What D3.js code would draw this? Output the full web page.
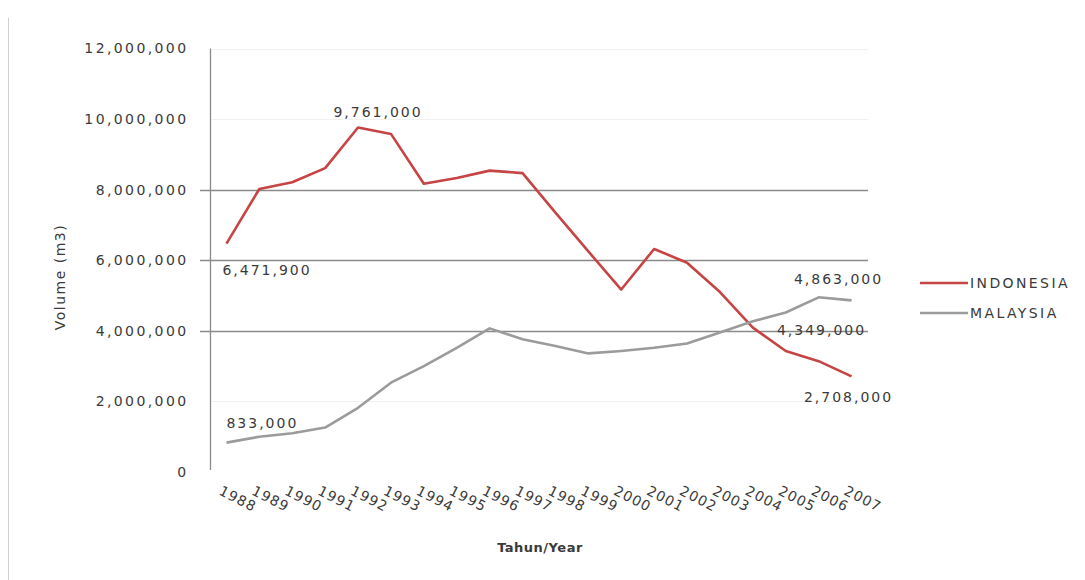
<!DOCTYPE html>
<html>
<head>
<meta charset="utf-8">
<script src="https://cdn.jsdelivr.net/npm/d3@7"></script>
<style>
  html, body { margin: 0; padding: 0; background: #ffffff; }
  svg { display: block; }
  text { font-family: "DejaVu Sans", sans-serif; fill: #3a3a3a; }
</style>
</head>
<body>
<svg id="chart" width="1085" height="580"></svg>
<script>
// ---- data ----
const years = [1988, 1989, 1990, 1991, 1992, 1993, 1994, 1995, 1996, 1997,
               1998, 1999, 2000, 2001, 2002, 2003, 2004, 2005, 2006, 2007];
const indonesia = [6471900, 8020000, 8210000, 8610000, 9761000, 9580000, 8170000, 8330000, 8540000, 8470000,
                   7350000, 6250000, 5170000, 6320000, 5930000, 5100000, 4090000, 3430000, 3140000, 2708000];
const malaysia = [833000, 1000000, 1100000, 1260000, 1820000, 2530000, 3000000, 3520000, 4070000, 3760000,
                  3570000, 3360000, 3430000, 3520000, 3640000, 3950000, 4270000, 4520000, 4950000, 4863000];
const seriesNames = ["INDONESIA", "MALAYSIA"];
const yTicks = [0, 2000000, 4000000, 6000000, 8000000, 10000000, 12000000];
const pointLabels = [
  { series: "INDONESIA", index: 0,  text: "6,471,900" },
  { series: "INDONESIA", index: 4,  text: "9,761,000" },
  { series: "INDONESIA", index: 19, text: "2,708,000" },
  { series: "MALAYSIA",  index: 0,  text: "833,000" },
  { series: "MALAYSIA",  index: 19, text: "4,863,000" },
  { series: "MALAYSIA",  index: 19, text: "4,349,000" }
];
const xTitle = "Tahun/Year";
const yTitle = "Volume (m3)";

// ---- layout ----
const svg = d3.select("#chart");
const plot = { left: 210, right: 868, top: 48.5, bottom: 472 };
const colors = { "INDONESIA": "#c64444", "MALAYSIA": "#9b9b9b" };
const values = { "INDONESIA": indonesia, "MALAYSIA": malaysia };

const x = d3.scalePoint().domain(years).range([plot.left, plot.right]).padding(0.5);
const y = d3.scaleLinear().domain([0, 12000000]).range([plot.bottom, plot.top]);

// left border of the chart area
svg.append("line").attr("x1", 8.5).attr("x2", 8.5).attr("y1", 18).attr("y2", 580)
   .attr("stroke", "#d0d0d0").attr("stroke-width", 1);

// gridlines
const strongGrid = new Set([4000000, 6000000, 8000000]);
svg.append("g").selectAll("line").data(yTicks.filter(d => d > 0)).join("line")
  .attr("x1", d => strongGrid.has(d) ? plot.left - 10 : plot.left)
  .attr("x2", plot.right)
  .attr("y1", d => Math.round(y(d)) + 0.5)
  .attr("y2", d => Math.round(y(d)) + 0.5)
  .attr("stroke", d => strongGrid.has(d) ? "#8a8a8a" : "#f1f1f1")
  .attr("stroke-width", d => strongGrid.has(d) ? 1.3 : 1);

// y axis
const yAxis = d3.axisLeft(y).tickValues(yTicks).tickSize(0).tickPadding(22)
  .tickFormat(d3.format(","));
const gy = svg.append("g").attr("transform", `translate(${plot.left + 0.5},0)`).call(yAxis);
gy.select(".domain").attr("stroke", "#8a8a8a").attr("stroke-width", 1.3)
  .attr("d", `M0,${plot.top}V${plot.bottom - 2}`);
gy.selectAll("text").attr("font-size", 14).attr("letter-spacing", 2.4)
  .attr("fill", "#3a3a3a").style("font-family", "DejaVu Sans, sans-serif");

// x axis labels (rotated)
const xAxis = d3.axisBottom(x).tickSize(0).tickPadding(0);
const gx = svg.append("g").attr("transform", `translate(0,${plot.bottom})`).call(xAxis);
gx.select(".domain").remove();
gx.selectAll("text")
  .attr("font-size", 14).attr("letter-spacing", 1)
  .attr("text-anchor", "start")
  .attr("dy", null)
  .attr("transform", "translate(-9,22) rotate(27)")
  .attr("fill", "#3a3a3a").style("font-family", "DejaVu Sans, sans-serif");

// lines
const line = d3.line().x((d, i) => x(years[i])).y(d => y(d));
seriesNames.forEach(name => {
  svg.append("path").datum(values[name])
    .attr("d", line)
    .attr("fill", "none")
    .attr("stroke", colors[name])
    .attr("stroke-width", 2.6)
    .attr("stroke-linejoin", "round");
});

// point labels
const labelOffsets = [
  { dx: -4, dy: 31, anchor: "start" },
  { dx: 20, dy: -11, anchor: "middle" },
  { dx: -3, dy: 26, anchor: "middle" },
  { dx: 0, dy: -15, anchor: "start" },
  { dx: -13, dy: -16, anchor: "middle" },
  { dx: -30, dy: 35, anchor: "middle" }
];
svg.append("g").selectAll("text").data(pointLabels).join("text")
  .attr("x", (d, i) => x(years[d.index]) + labelOffsets[i].dx)
  .attr("y", (d, i) => y(values[d.series][d.index]) + labelOffsets[i].dy)
  .attr("text-anchor", (d, i) => labelOffsets[i].anchor)
  .attr("font-size", 14).attr("letter-spacing", 2)
  .text(d => d.text);

// legend
const legend = svg.append("g").attr("transform", "translate(920,283)");
seriesNames.forEach((name, i) => {
  const g = legend.append("g").attr("transform", `translate(0,${i * 30})`);
  g.append("line").attr("x1", 0).attr("x2", 48).attr("y1", 0).attr("y2", 0)
    .attr("stroke", colors[name]).attr("stroke-width", 2.6);
  g.append("text").attr("x", 50).attr("y", 5).attr("font-size", 14)
    .attr("letter-spacing", 2.4).text(name);
});

// axis titles
svg.append("text").attr("x", 540).attr("y", 552).attr("text-anchor", "middle")
  .attr("font-size", 13).attr("font-weight", "bold").attr("letter-spacing", 0.5)
  .attr("fill", "#333").text(xTitle);
svg.append("text").attr("transform", "translate(65,277) rotate(-90)")
  .attr("text-anchor", "middle").attr("font-size", 14).attr("letter-spacing", 1.5)
  .attr("fill", "#333").text(yTitle);
</script>
</body>
</html>
